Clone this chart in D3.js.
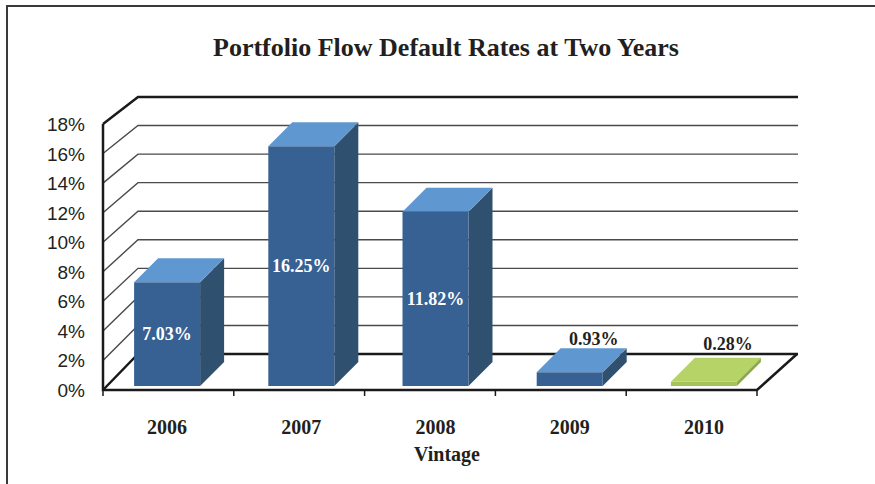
<!DOCTYPE html>
<html>
<head>
<meta charset="utf-8">
<script src="https://cdn.jsdelivr.net/npm/d3@7"></script>
<style>
  body { margin: 0; background: #fff; }
  svg { display: block; }
</style>
</head>
<body>
<svg id="chart" width="875" height="484"></svg>
<script>
// data
const vintages = ['2006', '2007', '2008', '2009', '2010'];
const defaultRates = [7.03, 16.25, 11.82, 0.93, 0.28];
const rateLabels = ['7.03%', '16.25%', '11.82%', '0.93%', '0.28%'];
const yTicks = [0, 2, 4, 6, 8, 10, 12, 14, 16, 18];

const svg = d3.select('#chart');
const ink = '#231f20';

// frame around the chart (only top + left visible in the crop)
svg.append('path')
  .attr('d', 'M7,490 L7,6 L880,6')
  .attr('fill', 'none')
  .attr('stroke', '#3a3a3a')
  .attr('stroke-width', 2);

// title
svg.append('text')
  .attr('x', 446).attr('y', 56)
  .attr('text-anchor', 'middle')
  .attr('font-family', 'Liberation Serif')
  .attr('font-weight', 'bold')
  .attr('font-size', 26)
  .attr('fill', ink)
  .text('Portfolio Flow Default Rates at Two Years');

// 3D-ish scales: front plane and back wall
const yFront = d3.scaleLinear().domain([0, 18]).range([390, 124]);
const yBack = d3.scaleLinear().domain([0, 18]).range([354, 97]);
const xFront = d3.scaleBand().domain(vintages).range([103, 757]);
const xBackLeft = 138, xBackRight = 798;

// bars sit a bit behind the front plane
const xBar = d3.scaleBand().domain(vintages).range([100, 771]);
const yBar = d3.scaleLinear().domain([0, 18]).range([386, 386 - 18 * 14.75]);
const barW = 66, depth = 24;

const grid = svg.append('g');

// gridlines: diagonal on the side wall + horizontal on back wall
yTicks.forEach(t => {
  const heavy = (t === 0 || t === 18);
  grid.append('path')
    .attr('d', `M103,${yFront(t)} L${xBackLeft},${yBack(t)} L${xBackRight},${yBack(t)}`)
    .attr('fill', 'none')
    .attr('stroke', heavy ? '#1a1a1a' : '#4a4a4a')
    .attr('stroke-width', heavy ? 2.5 : 1.4);
});

// left axis + floor front edge + floor right edge
grid.append('path')
  .attr('d', `M103,${yFront(18)} L103,${yFront(0)} L757,${yFront(0)} L${xBackRight - 1},${yBack(0)}`)
  .attr('fill', 'none')
  .attr('stroke', '#1a1a1a')
  .attr('stroke-width', 2.5);

// category tick marks
const tickXs = vintages.map(v => xFront(v)).concat([xFront.range()[1]]);
grid.selectAll('line.tick')
  .data(tickXs)
  .join('line')
  .attr('class', 'tick')
  .attr('x1', d => d).attr('x2', d => d)
  .attr('y1', yFront(0)).attr('y2', yFront(0) + 6)
  .attr('stroke', '#1a1a1a')
  .attr('stroke-width', 1.5);

// y tick labels
svg.append('g')
  .selectAll('text')
  .data(yTicks)
  .join('text')
  .attr('x', 85)
  .attr('y', d => yFront(d) + 7)
  .attr('text-anchor', 'end')
  .attr('font-family', 'Liberation Sans')
  .attr('font-size', 19)
  .attr('fill', ink)
  .text(d => d + '%');

// bars
const barData = vintages.map((v, i) => ({ year: v, value: defaultRates[i], label: rateLabels[i] }));
const colors = d => d.year === '2010'
  ? { front: '#a4c45a', top: '#b5d366', side: '#8caa47' }
  : { front: '#376193', top: '#5f98d0', side: '#30506f' };

const bars = svg.append('g')
  .selectAll('g')
  .data(barData)
  .join('g');

bars.each(function (d) {
  const g = d3.select(this);
  const x0 = xBar(d.year) + (xBar.bandwidth() - barW) / 2;
  const x1 = x0 + barW;
  const yt = yBar(d.value), yb = yBar(0);
  const c = colors(d);
  // side face
  g.append('path')
    .attr('d', `M${x1},${yt} L${x1 + depth},${yt - depth} L${x1 + depth},${yb - depth} L${x1},${yb} Z`)
    .attr('fill', c.side);
  // top face
  g.append('path')
    .attr('d', `M${x0},${yt} L${x0 + depth},${yt - depth} L${x1 + depth},${yt - depth} L${x1},${yt} Z`)
    .attr('fill', c.top);
  // front face
  g.append('rect')
    .attr('x', x0).attr('y', yt)
    .attr('width', barW).attr('height', yb - yt)
    .attr('fill', c.front);

  // big bars get the label inside, small ones above (kept clear of the floor edge)
  const inside = d.value > 3;
  g.append('text')
    .attr('x', inside ? (x0 + x1) / 2 : (x0 + x1) / 2 + depth)
    .attr('y', inside ? (yt + yb) / 2 + 6 : Math.min(yt - depth - 3, yBack(0) - 4))
    .attr('text-anchor', 'middle')
    .attr('font-family', 'Liberation Serif')
    .attr('font-weight', 'bold')
    .attr('font-size', 18)
    .attr('fill', inside ? '#ffffff' : ink)
    .text(d.label);
});

// category labels
svg.append('g')
  .selectAll('text')
  .data(vintages)
  .join('text')
  .attr('x', d => xBar(d) + xBar.bandwidth() / 2)
  .attr('y', 434)
  .attr('text-anchor', 'middle')
  .attr('font-family', 'Liberation Serif')
  .attr('font-weight', 'bold')
  .attr('font-size', 20)
  .attr('fill', ink)
  .text(d => d);

// axis title
svg.append('text')
  .attr('x', 447).attr('y', 461)
  .attr('text-anchor', 'middle')
  .attr('font-family', 'Liberation Serif')
  .attr('font-weight', 'bold')
  .attr('font-size', 20)
  .attr('fill', ink)
  .text('Vintage');
</script>
</body>
</html>
